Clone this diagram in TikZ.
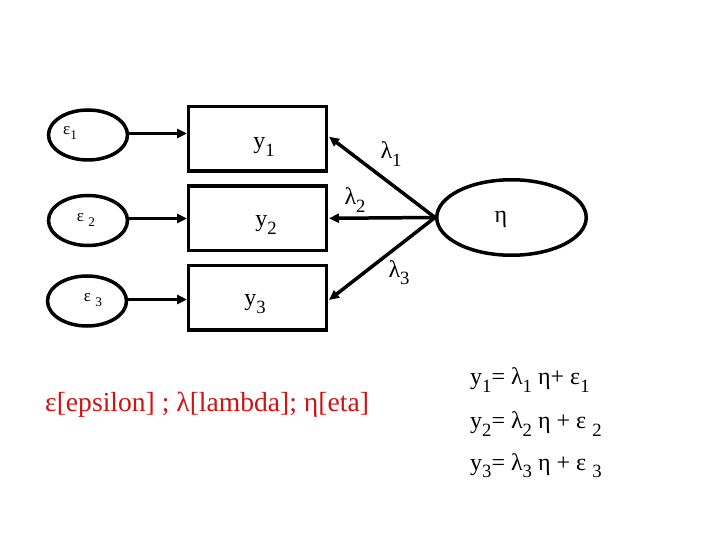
\documentclass[tikz,border=0pt]{standalone}
\usepackage{fontspec}
\usepackage{graphicx}
\setmainfont{Liberation Serif}
\usetikzlibrary{arrows.meta,shapes.geometric}
\newcommand{\subs}[1]{\raisebox{-0.3em}{\scalebox{0.78}{#1}}}
\definecolor{legendred}{RGB}{204,20,20}
\tikzset{
  err/.style={draw, ellipse, line width=3.5pt, minimum width=79pt, minimum height=50pt, inner sep=0pt},
  obs/.style={draw, rectangle, line width=3.5pt, minimum width=138pt, minimum height=64.5pt, inner sep=0pt},
  lat/.style={draw, ellipse, line width=3.5pt, minimum width=149.5pt, minimum height=75.5pt, inner sep=0pt},
  conn/.style={line width=3.5pt, -{Triangle[length=10pt,width=9pt]}},
  lbl/.style={font=\fontsize{24}{28}\selectfont, inner sep=0pt},
  elbl/.style={font=\fontsize{17}{20}\selectfont, inner sep=0pt},
  eq/.style={font=\fontsize{24}{28}\selectfont, inner sep=0pt, anchor=west},
}
\begin{document}
\begin{tikzpicture}[x=1pt,y=-1pt]
\path[use as bounding box] (0,0) rectangle (720,540);
% error ellipses
\node[err] (e1) at (88,135) {};
\node[err] (e2) at (88,220.5) {};
\node[err] (e3) at (87,301) {};
\node[elbl] (le1) at (70,133) {ε\subs{1}};
\node[elbl] (le2) at (86,220) {ε \subs{2}};
\node[elbl] (le3) at (93,300) {ε \subs{3}};
% observed boxes
\node[obs] (b1) at (257.5,138.8) {};
\node[obs] (b2) at (257.5,218.2) {};
\node[obs] (b3) at (257.5,297.7) {};
\node[lbl] (ly1) at (264,147) {y\subs{1}};
\node[lbl] (ly2) at (266,225) {y\subs{2}};
\node[lbl] (ly3) at (255,304) {y\subs{3}};
% latent
\node[lat] (eta) at (511.5,217.5) {};
\node[lbl] (leta) at (501,219) {η};
% error arrows
\coordinate (t1) at (187,133.5);
\coordinate (t2) at (187,218.5);
\coordinate (t3) at (187,299.5);
\draw[conn] (e1.east |- t1) -- (t1);
\draw[conn] (e2.east |- t2) -- (t2);
\draw[conn] (e3.east |- t3) -- (t3);
% loadings
\coordinate (s1) at (329,136.7);
\coordinate (s2) at (329,218.3);
\coordinate (s3) at (329,300);
\draw[conn] (eta.west) -- (s1);
\draw[conn] (eta.west) -- (s2);
\draw[conn] (eta.west) -- (s3);
\node[lbl] (l1) at (391,154) {λ\subs{1}};
\node[lbl] (l2) at (355,200) {λ\subs{2}};
\node[lbl] (l3) at (399,273) {λ\subs{3}};
% legend
\node[font=\fontsize{27.6}{32}\selectfont, text=legendred, inner sep=0pt, anchor=west] (leg) at (45,405) {ε[epsilon] ; λ[lambda]; η[eta]};
% equations
\node[eq] (q1) at (470,380) {y\subs{1}= λ\subs{1} η+ ε\subs{1}};
\node[eq] (q2) at (470,424) {y\subs{2}= λ\subs{2} η + ε \subs{2}};
\node[eq] (q3) at (470,466) {y\subs{3}= λ\subs{3} η + ε \subs{3}};
\end{tikzpicture}
\end{document}
